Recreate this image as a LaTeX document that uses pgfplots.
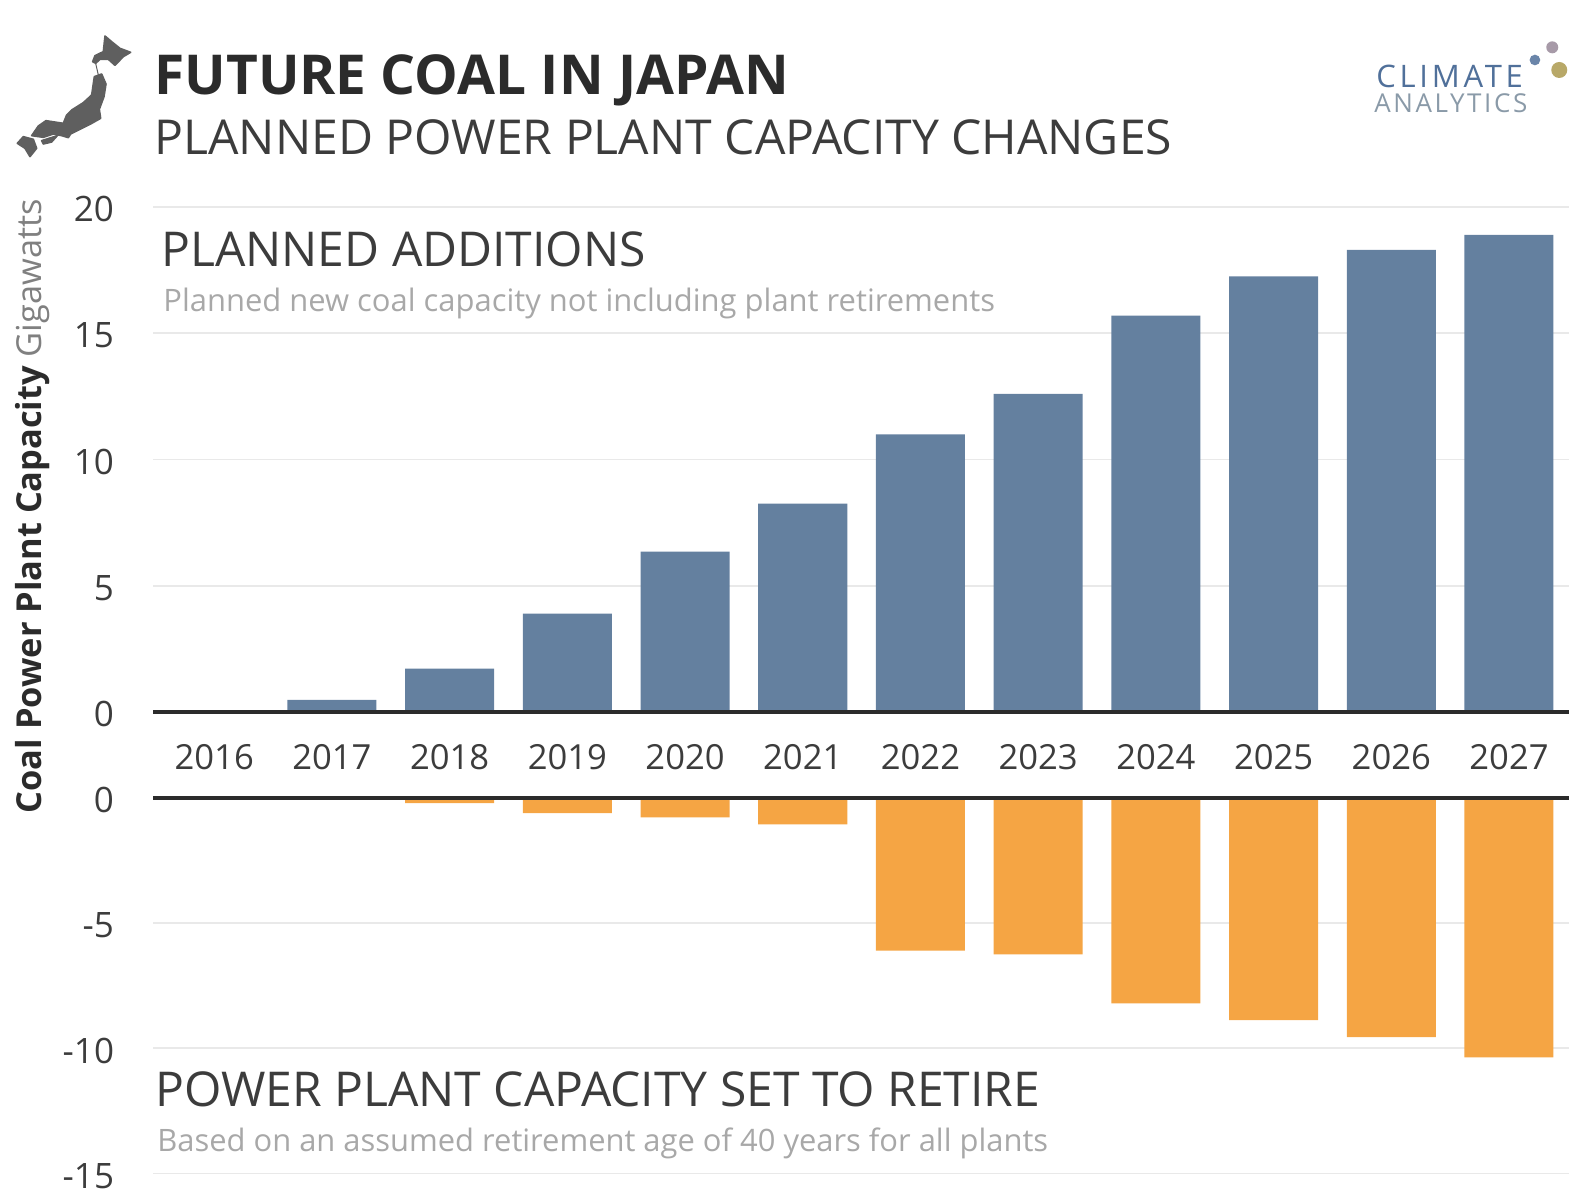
\documentclass[border=0pt]{standalone}
\usepackage{fontspec}
\usepackage{pgfplots}
\pgfplotsset{compat=1.18}
\setmainfont{Open Sans}
\definecolor{addblue}{HTML}{64809F}
\definecolor{retorange}{HTML}{F5A544}
\definecolor{gridgrey}{HTML}{E9E9E9}
\definecolor{inkdark}{HTML}{2B2B2B}
\definecolor{inksoft}{HTML}{3C3C3C}
\definecolor{noteink}{HTML}{A8A8A8}
\definecolor{iconink}{HTML}{5F5F5F}
\definecolor{logoblue}{HTML}{50709A}
\definecolor{logogrey}{HTML}{8A9AA8}
\definecolor{logoolive}{HTML}{B8A868}
\definecolor{logomauve}{HTML}{A79AA8}
\newcommand{\fs}[1]{\fontsize{#1}{#1}\selectfont}

\pgfplotsset{
  coalbase/.style={
    scale only axis,
    width=708pt,
    xmin=-0.52, xmax=11.51,
    axis line style={draw=none},
    major tick length=0pt,
    ymajorgrids,
    major grid style={gridgrey,line width=0.9pt},
    ytick distance=5,
    yticklabel style={font=\fs{17.5},text=inksoft,anchor=east,inner sep=0pt,xshift=-19.3pt,yshift=-1.2pt},
    /pgf/number format/assume math mode=true,
    ybar,
    bar width=44.5pt,
    clip=false,
  }
}

\begin{document}
\begin{tikzpicture}
% page frame, in points: 1 px = 0.5 pt
\useasboundingbox (0,0) rectangle (791pt,-596pt);

% additions
\begin{axis}[coalbase,
  at={(76.5pt,-356pt)}, anchor=south west,
  height=252.5pt,
  ymin=0, ymax=20,
  xtick={0,...,11},
  xticklabels={2016,2017,2018,2019,2020,2021,2022,2023,2024,2025,2026,2027},
  xticklabel style={font=\fs{17.3},text=inksoft,yshift=-12.5pt},
]
\addplot[fill=addblue,draw=none] coordinates {
  (0,0) (1,0.48) (2,1.72) (3,3.9) (4,6.35) (5,8.25)
  (6,11.0) (7,12.6) (8,15.7) (9,17.25) (10,18.3) (11,18.9)};
\draw[inkdark,line width=1.6pt] (axis cs:-0.52,0) -- (axis cs:11.51,0);
\end{axis}

% retirements
\begin{axis}[coalbase,
  at={(76.5pt,-399pt)}, anchor=north west,
  height=187.75pt,
  ymin=-15, ymax=0,
  xtick=\empty,
]
\addplot[fill=retorange,draw=none] coordinates {
  (0,0) (1,0) (2,-0.2) (3,-0.6) (4,-0.77) (5,-1.05)
  (6,-6.1) (7,-6.25) (8,-8.2) (9,-8.87) (10,-9.55) (11,-10.36)};
\draw[inkdark,line width=1.6pt] (axis cs:-0.52,0) -- (axis cs:11.51,0);
\end{axis}

% headings and notes, positioned in pixel units from the top left
\begin{scope}[x=0.5pt,y=-0.5pt,every node/.style={inner sep=0pt,anchor=base west}]
\node[text=inkdark] at (154,95) {\fs{27.5}\bfseries FUTURE COAL IN JAPAN};
\node[text=inksoft] at (154,155) {\fs{24.05}PLANNED POWER PLANT CAPACITY CHANGES};
\node[text=inksoft] at (161,267) {\fs{24}PLANNED ADDITIONS};
\node[text=noteink] at (163,312) {\fs{15.47}Planned new coal capacity not including plant retirements};
\node[text=inksoft] at (155,1106) {\fs{24}POWER PLANT CAPACITY SET TO RETIRE};
\node[text=noteink] at (157,1151) {\fs{15.45}Based on an assumed retirement age of 40 years for all plants};
\node[rotate=90,anchor=base,text=inkdark] at (41,506) {\fs{17.2}\textbf{Coal Power Plant Capacity} \textcolor{gray}{Gigawatts}};
% logo lettering
\node[text=logoblue] at (1376,88) {\fs{15.5}\addfontfeatures{LetterSpace=12}CLIMATE};
\node[text=logogrey] at (1374,113) {\fs{13}\addfontfeatures{LetterSpace=10}ANALYTICS};
\end{scope}

% logo dots
\begin{scope}[x=0.5pt/3,y=-0.5pt/3,shift={(1340*3,20*3)}]
\fill[logoblue!85] (585,120) circle (16);
\fill[logomauve] (637,82) circle (18);
\fill[logoolive] (658,150) circle (24);
\end{scope}

% outline of Japan
\begin{scope}[x=0.5pt/3,y=-0.5pt/3,shift={(0,20*3)}]
\begin{scope}[iconink,line width=0.8pt,line join=round]
\filldraw (315,48) -- (335,65) -- (360,85) -- (392,97) -- (370,110) -- (345,136)
  -- (325,118) -- (300,118) -- (287,130) -- (278,125) -- (285,107) -- (310,95) -- cycle;
\draw[line width=0.5pt] (287,130) -- (295,165);
\filldraw (283,170) -- (305,162) -- (318,192) -- (312,230) -- (298,268) -- (302,295)
  -- (272,312) -- (240,328) -- (212,342) -- (205,353) -- (185,347) -- (160,342)
  -- (130,352) -- (95,347) -- (115,318) -- (138,302) -- (190,310) -- (200,285)
  -- (215,270) -- (250,248) -- (275,225) -- cycle;
\filldraw (125,362) -- (172,347) -- (155,366) -- (130,372) -- cycle;
\filldraw (52,370) -- (70,350) -- (100,358) -- (110,385) -- (90,410) -- (75,385) -- cycle;
\end{scope}
\end{scope}
\end{tikzpicture}
\end{document}
